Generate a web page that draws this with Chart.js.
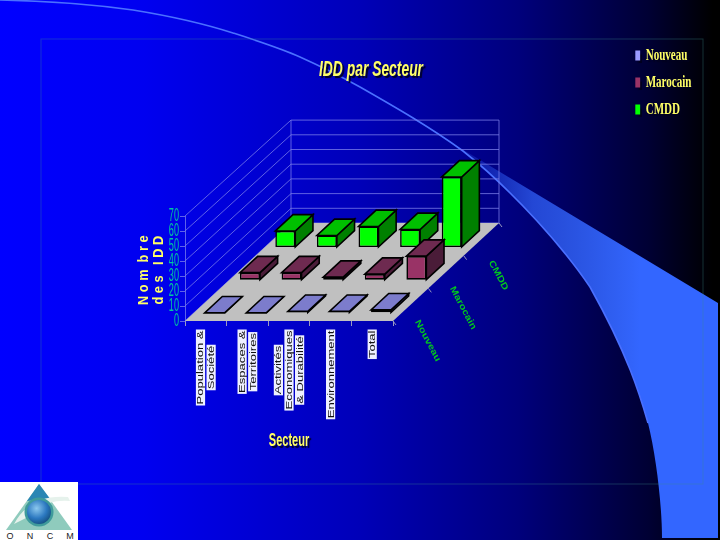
<!DOCTYPE html>
<html><head><meta charset="utf-8">
<script src="https://cdn.jsdelivr.net/npm/chart.js@4"></script>
<style>
html,body{margin:0;padding:0;width:720px;height:540px;overflow:hidden;background:linear-gradient(90deg,#0000ff 0%,#0000f0 20%,#0000b8 50%,#00007c 72%,#000034 90%,#000000 99%);}
svg,canvas{position:absolute;left:0;top:0;}
</style></head><body>
<svg width="720" height="540" viewBox="0 0 720 540">
<defs>
<linearGradient id="sw" gradientUnits="userSpaceOnUse" x1="462" y1="0" x2="640" y2="0">
<stop offset="0" stop-color="#3366ff" stop-opacity="0.15"/><stop offset="0.4" stop-color="#3366ff" stop-opacity="0.7"/><stop offset="1" stop-color="#3366ff"/></linearGradient>
<radialGradient id="ball" cx="0.4" cy="0.35" r="0.7"><stop offset="0" stop-color="#8cc8ee"/><stop offset="0.6" stop-color="#2b78c0"/><stop offset="1" stop-color="#14507f"/></radialGradient>
</defs>
<path d="M462 149 L718 303 L718 538 L662 538 C662 505 656 455 648 423 C640 395 628 355 590 287 C565 250 515 192 462 149 Z" fill="url(#sw)"/>
<path d="M0 0 C50 1 90 4 133 10 C170 16 205 24 233 33 C258 41 280 48 300 57 C320 66 342 77 360 87 C395 107 430 127 463 151 C515 192 565 250 590 287 C628 355 640 395 648 423" fill="none" stroke="#4a70ff" stroke-width="1.6"/>
<rect x="41" y="39" width="662" height="445" fill="none" stroke="#3a8a8a" stroke-opacity="0.35"/>
<rect x="0" y="482" width="78" height="58" fill="#ffffff"/>
<path d="M39 484 L72 530 L6 530 Z" fill="#8fcbbd"/>
<path d="M39 484 L51 500 Q38 499 27 501 Z" fill="#2a86b4"/>
<path d="M14 524 Q30 494 68 497 L70 501 Q44 499 30 516 Z" fill="#e6f2ec"/>
<circle cx="39" cy="512" r="14.5" fill="#3f9b9b"/>
<circle cx="39" cy="512" r="12" fill="url(#ball)"/>
<g font-family="Liberation Sans" font-size="9" fill="#222" text-anchor="middle">
<text x="10" y="539">O</text><text x="30" y="539">N</text><text x="50" y="539">C</text><text x="70" y="539">M</text>
</g>
</svg>
<canvas id="c" width="720" height="540"></canvas>
<script>
const categories = [['Population &','Société'],['Espaces &','Territoires'],['Activités','Economiques','& Durabilité'],['Environnement'],['Total']];
const seriesNames = ['Nouveau','Marocain','CMDD'];
const nouveau = [0,0,1,1,2];
const marocain = [5,5,2,4,16];
const cmdd = [11,8,14,12,47];
const yTicks = [0,10,20,30,40,50,60,70];
const titleText = 'IDD par Secteur';
const yTitle = ['N o m  b r e','d e s   I D D'];
const xTitle = 'Secteur';

const SANS = '"Liberation Sans",sans-serif';
const DEPTH = {x:106, y:98};          // floor depth in the oblique projection
const UNIT = {x:DEPTH.x/3, y:DEPTH.y/3};
const shade = {0:['#7c7ccc','#4a4a96'],1:['#6e2a50','#4a1c38'],2:['#00c000','#008000']};
const LEGEND_SX = 0.69;

function box(ctx,pts,fill,stroke,lw){
  ctx.beginPath();pts.forEach((p,i)=>i?ctx.lineTo(p[0],p[1]):ctx.moveTo(p[0],p[1]));ctx.closePath();
  if(fill){ctx.fillStyle=fill;ctx.fill();}
  if(stroke){ctx.strokeStyle=stroke;ctx.lineWidth=lw;ctx.stroke();}
}
function squeeze(chart,obj,name,sx,sy,cx,cy,shadow){
  const key='_w'+name;
  if(obj[key])return;
  obj[key]=1;
  const d=obj[name].bind(obj);
  obj[name]=function(a){
    const c=chart.ctx;c.save();c.translate(cx,cy);c.scale(sx,sy);c.translate(-cx,-cy);
    if(shadow){c.shadowColor='rgba(0,0,30,.95)';c.shadowOffsetX=2;c.shadowOffsetY=2;c.shadowBlur=1;}
    d(a);c.restore();
  };
}
const scene = {
  id:'scene',
  afterLayout(chart){
    const t=chart.titleBlock,l=chart.legend,{x,y}=chart.scales;
    t.left=22; t.right=720;
    l.left=636/LEGEND_SX-12; l.right=720/LEGEND_SX; l.top=36.5; l.bottom=240;
    squeeze(chart,t,'draw',0.63,1,371,0,true);
    squeeze(chart,l,'draw',LEGEND_SX,1,0,0,true);
    squeeze(chart,x,'drawTitle',0.58,1,289,0,true);
    squeeze(chart,y,'drawLabels',0.48,1,179,0,false);
    squeeze(chart,y,'drawTitle',1,0.85,0,280,false);
  },
  beforeDatasetsDraw(chart){
    const {ctx,chartArea:a,scales:{x,y}}=chart;
    const y0=y.getPixelForValue(0);
    ctx.save();
    const gc='rgba(125,130,235,.75)';
    yTicks.forEach(v=>{
      const py=y.getPixelForValue(v), by=y0-DEPTH.y-(y0-py)*0.98;
      ctx.strokeStyle=gc;ctx.lineWidth=1;ctx.beginPath();
      ctx.moveTo(a.left,py);ctx.lineTo(a.left+DEPTH.x,by);ctx.lineTo(a.right+DEPTH.x,by);ctx.stroke();
    });
    const top=y0-DEPTH.y-(y0-y.getPixelForValue(70))*0.98;
    ctx.beginPath();ctx.moveTo(a.left+DEPTH.x,top);ctx.lineTo(a.left+DEPTH.x,y0-DEPTH.y);
    ctx.moveTo(a.right+DEPTH.x,top);ctx.lineTo(a.right+DEPTH.x,y0-DEPTH.y);ctx.stroke();
    box(ctx,[[a.left,y0],[a.right,y0],[a.right+DEPTH.x,y0-DEPTH.y],[a.left+DEPTH.x,y0-DEPTH.y]],'#c0c0c0');
    ctx.strokeStyle='#9a9ac0';ctx.lineWidth=1;
    for(let i=0;i<=3;i++){const px=a.right+UNIT.x*i,py=y0-UNIT.y*i;ctx.beginPath();ctx.moveTo(px,py);ctx.lineTo(px+3,py+4);ctx.stroke();}
    ctx.restore();
  },
  beforeDatasetDraw(chart,args){
    const ctx=chart.ctx,i=args.index,m=0.25,d=0.5;
    ctx.save();
    ctx.translate(UNIT.x*(i+m),-UNIT.y*(i+m));
    const ox=UNIT.x*d,oy=UNIT.y*d;
    args.meta.data.forEach(b=>{
      const l=b.x-b.width/2,r=b.x+b.width/2,t=b.y,bt=b.base;
      box(ctx,[[r,bt],[r+ox,bt-oy],[r+ox,t-oy],[r,t]],shade[i][1],'#000',1.6);
      box(ctx,[[l,t],[r,t],[r+ox,t-oy],[l+ox,t-oy]],shade[i][0],'#000',1.6);
    });
  },
  afterDatasetDraw(chart){chart.ctx.restore();},
  afterDraw(chart){
    const {ctx,chartArea:a,scales:{x,y}}=chart;
    const y0=y.getPixelForValue(0);
    const sc=1.45,lh=10.6,startY=330.5;
    ctx.save();
    ctx.font='9px '+SANS;ctx.textBaseline='middle';ctx.textAlign='center';
    categories.forEach((lines,i)=>{
      const px=x.getPixelForTick(i);
      const w=Math.max(...lines.map(s=>ctx.measureText(s).width))*sc;
      const cy=startY+w/2;
      lines.forEach((s,j)=>{
        const lx=px+(j-(lines.length-1)/2)*lh;
        const tw=ctx.measureText(s).width*sc+2;
        ctx.fillStyle='#eef0ff';ctx.fillRect(lx-4.6,cy-tw/2,9.2,tw);
        ctx.save();ctx.translate(lx,cy);ctx.rotate(-Math.PI/2);ctx.scale(sc,1);
        ctx.fillStyle='#111';ctx.fillText(s,0,0.5);ctx.restore();
      });
    });
    ctx.font='bold 9px '+SANS;ctx.fillStyle='#00c81e';
    seriesNames.forEach((s,i)=>{
      const px=a.right+UNIT.x*(i+.5)+17,py=y0-UNIT.y*(i+.5)+36;
      ctx.save();ctx.translate(px,py);ctx.rotate(62*Math.PI/180);ctx.scale(1.2,1);ctx.fillText(s,0,0);ctx.restore();
    });
    ctx.restore();
  }
};
new Chart(document.getElementById('c'),{
  type:'bar',
  plugins:[scene],
  data:{labels:categories,datasets:[
    {label:seriesNames[0],data:nouveau,backgroundColor:'#9999ff'},
    {label:seriesNames[1],data:marocain,backgroundColor:'#993366'},
    {label:seriesNames[2],data:cmdd,backgroundColor:'#00ff00'}
  ].map(d=>Object.assign(d,{borderColor:'#000',borderWidth:1.6,borderSkipped:false,clip:false,grouped:false,categoryPercentage:1,barPercentage:0.48}))},
  options:{
    responsive:false,animation:false,devicePixelRatio:1,
    layout:{padding:{left:135,right:327,top:0,bottom:88}},
    plugins:{
      tooltip:{enabled:false},
      title:{display:true,text:titleText,color:'#ffff66',font:{family:SANS,size:22,weight:'bold',style:'italic',lineHeight:1.2},padding:{top:57,bottom:132.6}},
      legend:{position:'chartArea',align:'start',labels:{color:'#ffff66',boxWidth:7,boxHeight:10,padding:11,
        font:{family:'"Liberation Serif",serif',size:16,weight:'bold'},
        generateLabels(c){const items=Chart.defaults.plugins.legend.labels.generateLabels(c);items.forEach(i=>{i.lineWidth=0;});return items;}}}
    },
    scales:{
      x:{offset:true,afterFit:s=>{s.height=131;},
        grid:{drawOnChartArea:false,drawTicks:true,tickLength:5,color:'#9a9ac0',offset:true},border:{display:false},
        ticks:{display:false},
        title:{display:true,text:xTitle,color:'#ffff66',font:{family:SANS,size:19,weight:'bold'},padding:{top:0,bottom:0}}},
      y:{min:0,max:70,afterFit:s=>{s.width=50;},afterBuildTicks:s=>{s.ticks=yTicks.map(v=>({value:v}));},
        grid:{drawOnChartArea:false,drawTicks:true,tickLength:5,color:'rgba(125,130,235,.75)'},border:{display:true,color:'rgba(125,130,235,.75)'},
        ticks:{color:'#00c8a0',padding:1,autoSkip:false,font:{family:SANS,size:19}},
        title:{display:true,text:yTitle,color:'#ffff66',font:{family:SANS,size:15,weight:'bold',lineHeight:0.95},padding:{top:2,bottom:0}}}
    }
  }
});
</script>
</body></html>
